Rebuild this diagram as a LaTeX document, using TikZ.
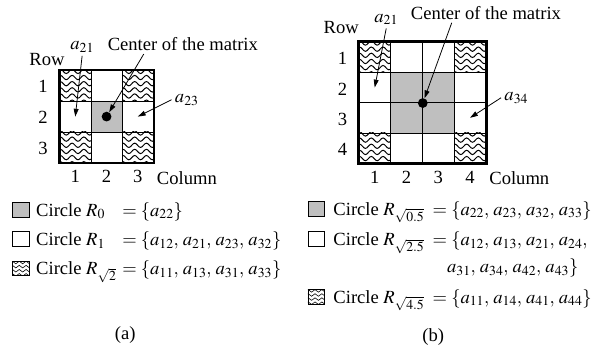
\documentclass[tikz,border=0pt]{standalone}
\usepackage{mathptmx}
\usepackage{fontspec}
\setmainfont{Liberation Serif}
\usetikzlibrary{positioning, arrows.meta, calc, decorations.pathmorphing}

\begin{document}
\begin{tikzpicture}[x=1pt, y=-1pt,
    font=\fontsize{19}{22}\selectfont,
    cell/.style={rectangle, draw, line width=0.8pt, inner sep=0pt},
    cellA/.style={cell, minimum width=32pt, minimum height=31.5pt},
    cellB/.style={cell, minimum width=32.5pt, minimum height=31pt},
    plain/.style={},
    shaded/.style={fill=black!25},
    wavy/.style={path picture={
        \foreach \k in {0,...,5}
          \draw[line width=1pt, decorate, decoration={snake, amplitude=2.2pt, segment length=12pt}]
            ($(path picture bounding box.north west)+(-3,{1+6.3*\k})$) -- ++(48,0);}},
    smallwavy/.style={path picture={
        \foreach \k in {0,...,3}
          \draw[line width=0.6pt, decorate, decoration={snake, amplitude=1.3pt, segment length=7pt}]
            ($(path picture bounding box.north west)+(-2,{1.5+4.2*\k})$) -- ++(24,0);}},
    key/.style={rectangle, draw, line width=0.6pt, minimum width=17pt, minimum height=15pt, inner sep=0pt},
    dot/.style={circle, fill, inner sep=0pt, minimum size=10pt},
    pointer/.style={-{Triangle[length=8pt, width=5pt]}, line width=0.8pt}]

    % Matrix (a): 3x3 cells
    \foreach \r/\c/\s in {1/1/wavy, 1/2/plain, 1/3/wavy,
                          2/1/plain, 2/2/shaded, 2/3/plain,
                          3/1/wavy, 3/2/plain, 3/3/wavy}
      \node[cellA, \s] (A-\r-\c) at ({61+32*\c-16},{72+31.5*\r-15.75}) {};
    \draw[line width=2.6pt] (A-1-1.north west) rectangle (A-3-3.south east);
    \node[dot] (dotA) at (A-2-2) {};

    % Row and column numbers (a)
    \node (rowA) at (48,61) {Row};
    \foreach \r in {1,2,3}
      \node (rA-\r) at ($(A-\r-1)+(-33,1)$) {\r};
    \foreach \c in {1,2,3}
      \node[below=4pt of A-3-\c] (cA-\c) {\c};
    \node[anchor=west] (colA) at (157,182) {Column};

    % Labels and arrows (a)
    \node (lblA21) at (84,48) {$a_{21}$};
    \node (ctrA) at (187,45) {Center of the matrix};
    \node (lblA23) at (191,102) {$a_{23}$};
    \draw[pointer] (lblA21.south) -- (A-2-1.center);
    \draw[pointer] ([xshift=-40pt]ctrA.south) -- (dotA);
    \draw[pointer] (lblA23.west) -- (A-2-3.center);

    % Legend (a)
    \node[key, shaded] (keyA0) at (21,214.5) {};
    \node[key] (keyA1) at (21,244.5) {};
    \node[key, smallwavy] (keyA2) at (21,274.5) {};
    \node[anchor=base west] (txtA0) at (33.5,221) {Circle $R_0$};
    \node[anchor=base west] (txtA1) at (33.5,251) {Circle $R_1$};
    \node[anchor=base west] (txtA2) at (33.5,281) {Circle $R_{\sqrt{2}}$};
    \node[anchor=base west] (eqA0) at (121.5,221) {$=\{a_{22}\}$};
    \node[anchor=base west] (eqA1) at (121.5,251) {$=\{a_{12},\,a_{21},\,a_{23},\,a_{32}\}$};
    \node[anchor=base west] (eqA2) at (121.5,281) {$=\{a_{11},\,a_{13},\,a_{31},\,a_{33}\}$};
    \node (capA) at (128,343) {(a)};

    % Matrix (b): 4x4 cells
    \foreach \r/\c/\s in {1/1/wavy, 1/2/plain, 1/3/plain, 1/4/wavy,
                          2/1/plain, 2/2/shaded, 2/3/shaded, 2/4/plain,
                          3/1/plain, 3/2/shaded, 3/3/shaded, 3/4/plain,
                          4/1/wavy, 4/2/plain, 4/3/plain, 4/4/wavy}
      \node[cellB, \s] (B-\r-\c) at ({367+32.5*\c-16.25},{43+31*\r-15.5}) {};
    \draw[line width=2.6pt] (B-1-1.north west) rectangle (B-4-4.south east);
    \node[dot] (dotB) at (B-2-2.south east) {};

    % Row and column numbers (b)
    \node (rowB) at (349,28) {Row};
    \foreach \r in {1,...,4}
      \node (rB-\r) at ($(B-\r-1)+(-33,1.5)$) {\r};
    \foreach \c in {1,...,4}
      \node[below=4pt of B-4-\c] (cB-\c) {\c};
    \node[anchor=west] (colB) at (497,182) {Column};

    % Labels and arrows (b)
    \node (lblB21) at (395,20) {$a_{21}$};
    \node (ctrB) at (497,13) {Center of the matrix};
    \node (lblB34) at (528,100) {$a_{34}$};
    \draw[pointer] (lblB21.south) -- (B-2-1.center);
    \draw[pointer] ([xshift=-35pt]ctrB.south) -- (dotB);
    \draw[pointer] (lblB34.west) -- (B-3-4.center);

    % Legend (b)
    \node[key, shaded] (keyB0) at (323.5,213.5) {};
    \node[key] (keyB1) at (323.5,244.5) {};
    \node[key, smallwavy] (keyB2) at (323.5,303.5) {};
    \node[anchor=base west] (txtB0) at (337.5,220) {Circle $R_{\sqrt{0.5}}$};
    \node[anchor=base west] (txtB1) at (337.5,251) {Circle $R_{\sqrt{2.5}}$};
    \node[anchor=base west] (txtB2) at (337.5,310) {Circle $R_{\sqrt{4.5}}$};
    \node[anchor=base west] (eqB0) at (439,220) {$=\{a_{22},\,a_{23},\,a_{32},\,a_{33}\}$};
    \node[anchor=base west] (eqB1) at (439,251) {$=\{a_{12},\,a_{13},\,a_{21},\,a_{24},$};
    \node[anchor=base east] (eqB1b) at (595,279) {$a_{31},\,a_{34},\,a_{42},\,a_{43}\}$};
    \node[anchor=base west] (eqB2) at (439,310) {$=\{a_{11},\,a_{14},\,a_{41},\,a_{44}\}$};
    \node (capB) at (443,345) {(b)};

    \useasboundingbox (0,0) rectangle (595,364);
\end{tikzpicture}
\end{document}
